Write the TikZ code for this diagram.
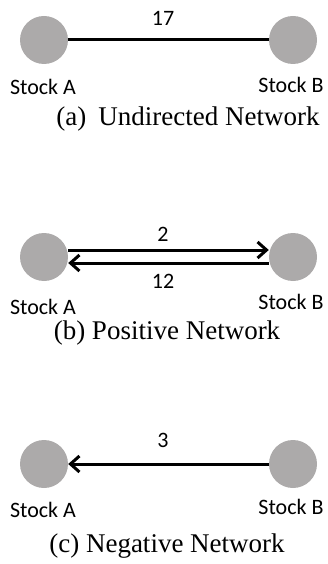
\documentclass[tikz,border=0pt]{standalone}
\usepackage{fontspec}
\setmainfont{Liberation Serif}
\newfontfamily\labelfont{Carlito}
\usetikzlibrary{arrows.meta}
\definecolor{stockgray}{RGB}{172,170,170}
\tikzset{
  stock/.style={circle, fill=stockgray, minimum size=48pt, inner sep=0pt},
  edge/.style={line width=3pt, black},
  arrowedge/.style={edge, -{Straight Barb[length=9pt,width=16pt,line width=3pt]}},
  stocklabel/.style={font=\labelfont\fontsize{22}{22}\selectfont, inner sep=0pt},
  weight/.style={font=\labelfont\fontsize{22}{22}\selectfont, inner sep=0pt},
  caption/.style={font=\fontsize{27}{27}\selectfont, inner sep=0pt}
}
\begin{document}
\begin{tikzpicture}[x=1pt,y=-1pt]
\useasboundingbox (0,0) rectangle (327,564);

% (a) undirected
\node[stock] (a1) at (44,40) {};
\node[stock] (b1) at (293,40) {};
\draw[edge] (a1) -- (b1);
\node[weight] (w1) at (163,18) {17};
\node[stocklabel] (na1) at (43,87) {Stock A};
\node[stocklabel] (nb1) at (291,85) {Stock B};
\node[caption] (c1) at (188,119) {(a)\hspace{0.45em}Undirected Network};

% (b) positive: upper edge A to B, lower edge B to A
\node[stock] (a2) at (44,257) {};
\node[stock] (b2) at (293,257) {};
\draw[arrowedge] ([yshift=7pt]a2.east) -- ([yshift=7pt]b2.west);
\draw[arrowedge] ([yshift=-6pt]b2.west) -- ([yshift=-6pt]a2.east);
\node[weight] (w2) at (163,234) {2};
\node[weight] (w3) at (163,281) {12};
\node[stocklabel] (na2) at (43,307) {Stock A};
\node[stocklabel] (nb2) at (291,302) {Stock B};
\node[caption] (c2) at (167,333) {(b) Positive Network};

% (c) negative
\node[stock] (a3) at (44,464) {};
\node[stock] (b3) at (293,464) {};
\draw[arrowedge] (b3) -- (a3);
\node[weight] (w4) at (163,440) {3};
\node[stocklabel] (na3) at (43,510) {Stock A};
\node[stocklabel] (nb3) at (291,507) {Stock B};
\node[caption] (c3) at (167,546) {(c) Negative Network};
\end{tikzpicture}
\end{document}
